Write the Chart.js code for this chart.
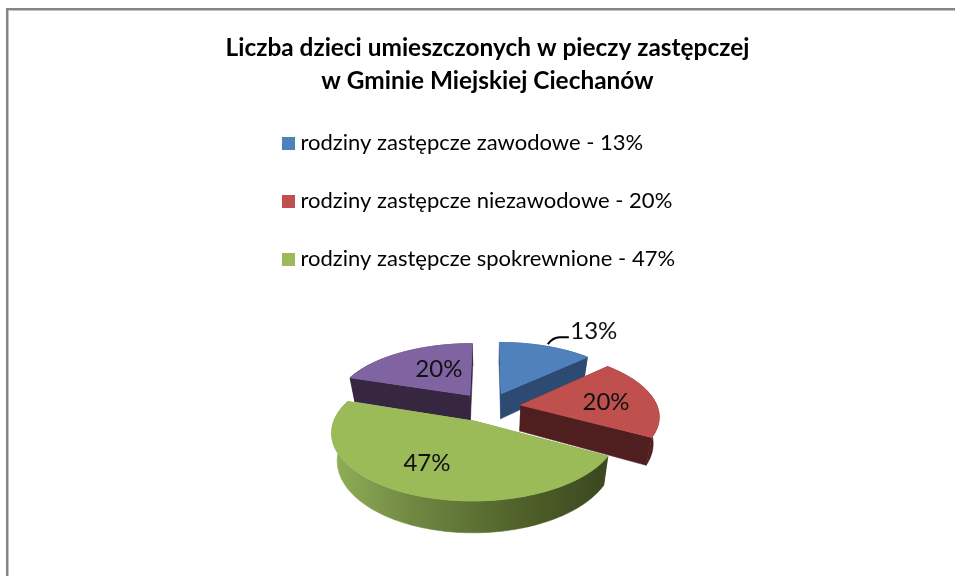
<!DOCTYPE html>
<html><head><meta charset="utf-8">
<script src="https://cdn.jsdelivr.net/npm/chart.js@4"></script>
<style>
html,body{margin:0;padding:0;background:#fff;overflow:hidden}
#wrap{position:relative;width:955px;height:576px}
#frame{position:absolute;left:6px;top:8px;right:0;bottom:0;border-top:2px solid #858585;border-left:2px solid #858585;box-shadow:inset 1px 1px 0 #c4c4c4}
canvas{position:absolute;left:0;top:0;filter:blur(0.45px)}
</style></head><body>
<div id="wrap"><div id="frame"></div><canvas id="c" width="955" height="576"></canvas></div>
<script>
const titleLines = ['Liczba dzieci umieszczonych w pieczy zastępczej', 'w Gminie Miejskiej Ciechanów'];
const categories = ['rodziny zastępcze zawodowe', 'rodziny zastępcze niezawodowe', 'rodziny zastępcze spokrewnione', 'pozostałe'];
const values = [13, 20, 47, 20];
const legendTexts = ['rodziny zastępcze zawodowe - 13%', 'rodziny zastępcze niezawodowe - 20%', 'rodziny zastępcze spokrewnione - 47%'];
const topColors = ['#4f81bd', '#c0504d', '#9bbb59', '#8064a2'];
const sideColors = ['#2c4a72', '#4e1f1e', null, '#36263f'];

const view = {cx: 488.5, cy: 407, sx: 136.5, sy: 62.7, persp: 0.152, depth: 26, shrink: 0.035, explode: 0.24};
const labelPlace = [null, {f: .65, dx: -1, dy: 2}, {f: .6, dx: -10, dy: 2}, {f: .4, dx: -2, dy: -8}];

function project(u, v, low) {
  const w = 1 / (1 - view.persp * v), k = low ? 1 - view.shrink : 1;
  return [view.cx + u * view.sx * w * k, view.cy + v * view.sy * w + (low ? view.depth * w : 0)];
}
function sliceGeom(el) {
  const a0 = el.startAngle + Math.PI / 2, a1 = el.endAngle + Math.PI / 2, mid = (a0 + a1) / 2;
  const ou = Math.sin(mid) * view.explode, ov = -Math.cos(mid) * view.explode;
  const n = Math.max(2, Math.ceil((a1 - a0) / (Math.PI / 180)));
  const rim = [];
  for (let i = 0; i <= n; i++) {
    const a = a0 + (a1 - a0) * i / n;
    rim.push([ou + Math.sin(a), ov - Math.cos(a)]);
  }
  return {ou, ov, rim, mid};
}
function poly(ctx, pts) {
  ctx.beginPath();
  pts.forEach((p, i) => i ? ctx.lineTo(p[0], p[1]) : ctx.moveTo(p[0], p[1]));
  ctx.closePath();
}
function swatch(color) {
  const s = document.createElement('canvas');
  s.width = 13; s.height = 13;
  const x = s.getContext('2d');
  x.fillStyle = color; x.fillRect(0, 0, 13, 13);
  return s;
}
const pie3d = {
  id: 'pie3d',
  afterLayout(chart) {
    const t = chart.titleBlock;
    t.left = 10; t.right = 10 + 955;
    t.top = 31.5; t.bottom = t.top + t.height;
    const l = chart.legend;
    const lw = l.right - l.left, lh = l.bottom - l.top;
    l.left = 251.5; l.right = l.left + lw; l.top = 96; l.bottom = l.top + lh;
    if (l.adjustHitBoxes) l.adjustHitBoxes();
  },
  beforeDatasetDraw(chart, args) {
    const ctx = chart.ctx, arcs = chart.getDatasetMeta(args.index).data;
    const order = [0, 3, 1, 2];
    ctx.save();
    order.forEach(i => {
      const g = sliceGeom(arcs[i]);
      const apexT = project(g.ou, g.ov, false), apexB = project(g.ou, g.ov, true);
      const topPts = g.rim.map(p => project(p[0], p[1], false));
      const lowPts = g.rim.map(p => project(p[0], p[1], true));
      let side = sideColors[i];
      if (!side) {
        side = ctx.createLinearGradient(331, 0, 605, 0);
        side.addColorStop(0, '#91b058');
        side.addColorStop(0.3, '#6f8842');
        side.addColorStop(0.7, '#4f6029');
        side.addColorStop(1, '#3b4820');
      }
      ctx.fillStyle = side;
      ctx.strokeStyle = side;
      ctx.lineWidth = 0.5;
      poly(ctx, [apexT, topPts[0], lowPts[0], apexB]); ctx.fill(); ctx.stroke();
      poly(ctx, [apexT, topPts[topPts.length - 1], lowPts[lowPts.length - 1], apexB]); ctx.fill(); ctx.stroke();
      poly(ctx, topPts.concat(lowPts.slice().reverse())); ctx.fill(); ctx.stroke();
      ctx.fillStyle = topColors[i];
      ctx.strokeStyle = topColors[i];
      ctx.lineWidth = 1;
      poly(ctx, [apexT].concat(topPts)); ctx.fill(); ctx.stroke();
    });
    ctx.fillStyle = '#111';
    ctx.font = '24px Lato';
    ctx.textAlign = 'center';
    ctx.textBaseline = 'middle';
    arcs.forEach((el, i) => {
      const g = sliceGeom(el), txt = values[i] + '%';
      if (labelPlace[i]) {
        const pl = labelPlace[i];
        const p = project(g.ou + Math.sin(g.mid) * pl.f, g.ov - Math.cos(g.mid) * pl.f, false);
        ctx.fillText(txt, p[0] + pl.dx, p[1] + pl.dy);
      } else {
        const p = project(g.ou + Math.sin(g.mid), g.ov - Math.cos(g.mid), false);
        ctx.strokeStyle = '#000'; ctx.lineWidth = 2;
        ctx.beginPath();
        ctx.moveTo(p[0] + 2, p[1] - 2);
        ctx.quadraticCurveTo(p[0] + 7, p[1] - 9, p[0] + 14, p[1] - 9);
        ctx.lineTo(p[0] + 23, p[1] - 9);
        ctx.stroke();
        ctx.fillText(txt, p[0] + 48, p[1] - 15);
      }
    });
    ctx.restore();
    return false;
  }
};
new Chart(document.getElementById('c'), {
  type: 'pie',
  data: {labels: categories, datasets: [{data: values, backgroundColor: topColors, borderWidth: 0}]},
  plugins: [pie3d],
  options: {
    responsive: false, animation: false,
    plugins: {
      tooltip: {enabled: false},
      title: {display: true, text: titleLines, color: '#000', align: 'center',
        font: {family: 'Lato', size: 24.4, weight: 'bold', lineHeight: 1.35}, padding: 0},
      legend: {display: true, position: 'left', align: 'start',
        labels: {
          usePointStyle: true, pointStyleWidth: 2, boxHeight: 13, padding: 36, color: '#1a1a1a',
          font: {family: 'Lato', size: 22},
          generateLabels: () => legendTexts.map((t, i) => ({text: t, fillStyle: topColors[i], strokeStyle: topColors[i], lineWidth: 0, pointStyle: swatch(topColors[i]), index: i, hidden: false}))
        }}
    }
  }
});
</script>
</body></html>
